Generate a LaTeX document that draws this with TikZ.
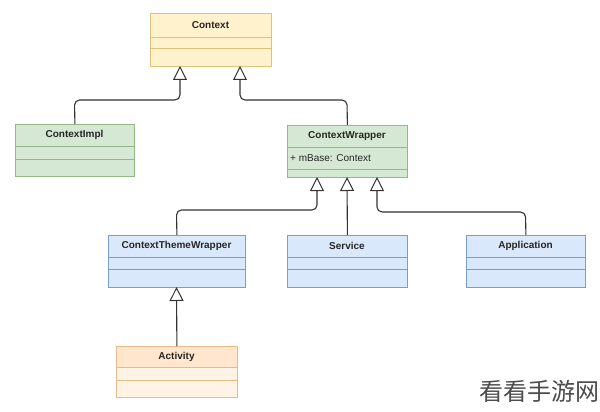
\documentclass[tikz,border=0pt]{standalone}
\usepackage{fontspec}
\setmainfont{Liberation Sans}
\newfontfamily\cjk{Noto Sans CJK SC}
\usetikzlibrary{arrows.meta,calc}
\definecolor{yfill}{HTML}{FFF2CC}\definecolor{ydraw}{HTML}{DCC27A}
\definecolor{gfill}{HTML}{D5E8D4}\definecolor{gdraw}{HTML}{97B886}
\definecolor{bfill}{HTML}{DAE8FC}\definecolor{bdraw}{HTML}{7E9CCB}
\definecolor{ofill}{HTML}{FFE6CC}\definecolor{obody}{HTML}{FFF3E6}\definecolor{odraw}{HTML}{E4BC86}
\definecolor{linec}{HTML}{333333}
\tikzset{
  classbox/.style={rectangle, draw, line width=0.8pt, anchor=north west, inner sep=0pt},
  title/.style={font=\bfseries\fontsize{10}{12}\selectfont, text=black!85, inner sep=0pt},
  attr/.style={font=\fontsize{10}{12}\selectfont, text=black!85, inner sep=0pt, anchor=west},
  inh/.style={draw=linec, line width=1.1pt, rounded corners=5pt,
    -{Triangle[open, length=14pt, width=14pt, fill=white, line width=1pt]}},
}
\begin{document}
\begin{tikzpicture}[x=1pt,y=-1pt]
\useasboundingbox[fill=white] (0,0) rectangle (600,412);
% Context
\node[classbox, fill=yfill, draw=ydraw, minimum width=121pt, minimum height=53pt] (ctx) at (150,13) {};
\draw[ydraw, line width=0.8pt] (150,37) -- (271,37) (150,48) -- (271,48);
\node[title] (ctxT) at (210.5,25) {Context};
% ContextImpl
\node[classbox, fill=gfill, draw=gdraw, minimum width=119pt, minimum height=52pt] (imp) at (15,124) {};
\draw[gdraw, line width=0.8pt] (15,146) -- (134,146) (15,159) -- (134,159);
\node[title] (impT) at (74.5,135) {ContextImpl};
% ContextWrapper
\node[classbox, fill=gfill, draw=gdraw, minimum width=120pt, minimum height=52pt] (wrp) at (287,125) {};
\draw[gdraw, line width=0.8pt] (287,147) -- (407,147) (287,169) -- (407,169);
\node[title] (wrpT) at (347,136) {ContextWrapper};
\node[attr] (wrpA) at (290,158) {+ mBase: Context};
% ContextThemeWrapper
\node[classbox, fill=bfill, draw=bdraw, minimum width=137pt, minimum height=52pt] (thm) at (108,235) {};
\draw[bdraw, line width=0.8pt] (108,257) -- (245,257) (108,269) -- (245,269);
\node[title] (thmT) at (176.5,246) {ContextThemeWrapper};
% Service
\node[classbox, fill=bfill, draw=bdraw, minimum width=120pt, minimum height=52pt] (srv) at (287,235) {};
\draw[bdraw, line width=0.8pt] (287,257) -- (407,257) (287,269) -- (407,269);
\node[title] (srvT) at (347,246) {Service};
% Application
\node[classbox, fill=bfill, draw=bdraw, minimum width=119pt, minimum height=52pt] (app) at (466,235) {};
\draw[bdraw, line width=0.8pt] (466,257) -- (585,257) (466,269) -- (585,269);
\node[title] (appT) at (525.5,246) {Application};
% Activity
\node[classbox, fill=obody, draw=odraw, minimum width=121pt, minimum height=51pt] (act) at (116,346) {};
\fill[ofill] (116,346) rectangle (237,367);
\draw[odraw, line width=0.8pt] (116,346) rectangle (237,397);
\draw[odraw, line width=0.8pt] (116,367) -- (237,367) (116,380) -- (237,380);
\node[title] (actT) at (176.5,356.5) {Activity};
% inheritance connectors
\coordinate (c1) at (180,66);
\coordinate (c2) at (240,66);
\coordinate (w1) at (317,177);
\coordinate (w2) at (347,177);
\coordinate (w3) at (377,177);
\coordinate (t1) at (176.5,287);
\draw[inh] (imp.north) -- (74.5,100) -- (180,100) -- (c1);
\draw[inh] (wrp.north) -- (347,100) -- (240,100) -- (c2);
\draw[inh] (thm.north) -- (176.5,210) -- (317,210) -- (w1);
\draw[inh] (srv.north) -- (w2);
\draw[inh] (app.north) -- (525.5,212) -- (377,212) -- (w3);
\draw[inh] (act.north) -- (t1);
% watermark
\node[font=\cjk\fontsize{24}{26}\selectfont, text=black!70, inner sep=0pt, anchor=east] (wm) at (600,391) {看看手游网};
\end{tikzpicture}
\end{document}
